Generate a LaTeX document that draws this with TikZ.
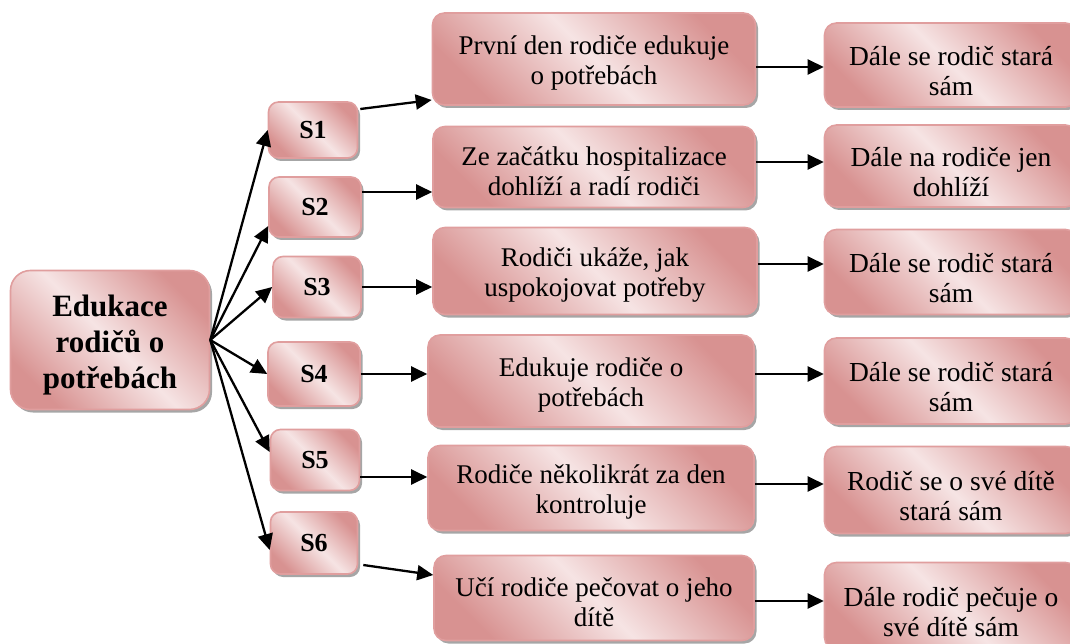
\documentclass[tikz,border=0pt]{standalone}
\usepackage{fontspec}
\setmainfont{Liberation Serif}
\usetikzlibrary{arrows.meta,shadows}
\definecolor{pinkdark}{RGB}{216,146,145}
\definecolor{pinklight}{RGB}{246,228,228}
\definecolor{boxborder}{RGB}{224,158,158}
\newcommand\myMidStrut{\rule{0pt}{27pt}}
\newcommand\myRStrut{\rule{0pt}{32pt}}
\newcommand\myMainStrut{\rule{0pt}{32pt}}
\tikzset{
  box/.style={draw=boxborder, line width=1.6pt, rounded corners=12pt,
    top color=pinkdark, bottom color=pinkdark, middle color=pinklight, shading angle=-45,
    drop shadow={shadow xshift=2.5pt, shadow yshift=-3pt, fill=black!50, opacity=0.7},
    align=center, inner sep=0pt, font=\fontsize{27}{30}\selectfont},
  midbox/.style={box},
  rbox/.style={box, font=\fontsize{27.5}{30}\selectfont},
  sbox/.style={box, rounded corners=10pt, font=\fontsize{26}{30}\selectfont\bfseries},
  mainbox/.style={box, rounded corners=20pt, font=\fontsize{31}{36}\selectfont\bfseries},
  arr/.style={line width=2.3pt, -{Triangle[length=16pt,width=15pt]}}
}
\begin{document}
\begin{tikzpicture}[x=1pt,y=-1pt]
\useasboundingbox (0,0) rectangle (1070,644);
% main
\node[mainbox, minimum width=199pt, minimum height=139pt] (main) at (110,340) {\myMainStrut Edukace\\rodičů o\\potřebách};
% S boxes
\node[sbox, minimum width=89pt, minimum height=56pt] (S1) at (313,130) {S1};
\node[sbox, minimum width=92pt, minimum height=60pt] (S2) at (315,207) {S2};
\node[sbox, minimum width=88pt, minimum height=61pt] (S3) at (317,287) {S3};
\node[sbox, minimum width=92pt, minimum height=64pt] (S4) at (314,374) {S4};
\node[sbox, minimum width=89pt, minimum height=61pt] (S5) at (315,460) {S5};
\node[sbox, minimum width=87pt, minimum height=62pt] (S6) at (314,543) {S6};
% middle boxes
\node[midbox, minimum width=323pt, minimum height=92pt] (M1) at (594,59) {\myMidStrut První den rodiče edukuje\\o potřebách};
\node[midbox, minimum width=322pt, minimum height=81pt] (M2) at (594,167) {\myMidStrut Ze začátku hospitalizace\\dohlíží a radí rodiči};
\node[midbox, minimum width=324pt, minimum height=87pt] (M3) at (595,271) {\myMidStrut Rodiči ukáže, jak\\uspokojovat potřeby};
\node[midbox, minimum width=326pt, minimum height=92pt] (M4) at (591,381) {\myMidStrut Edukuje rodiče o\\potřebách};
\node[midbox, minimum width=326pt, minimum height=85pt] (M5) at (591,488) {\myMidStrut Rodiče několikrát za den\\kontroluje};
\node[midbox, minimum width=320pt, minimum height=85pt] (M6) at (594,598) {\myMidStrut Učí rodiče pečovat o jeho\\dítě};
% right boxes
\node[rbox, minimum width=253pt, minimum height=84pt] (R1) at (951,65) {\myRStrut Dále se rodič stará\\sám};
\node[rbox, minimum width=253pt, minimum height=82pt] (R2) at (951,166) {\myRStrut Dále na rodiče jen\\dohlíží};
\node[rbox, minimum width=253pt, minimum height=85pt] (R3) at (951,272) {\myRStrut Dále se rodič stará\\sám};
\node[rbox, minimum width=253pt, minimum height=86pt] (R4) at (951,381) {\myRStrut Dále se rodič stará\\sám};
\node[rbox, minimum width=253pt, minimum height=87pt] (R5) at (951,490) {\myRStrut Rodič se o své dítě\\stará sám};
\node[rbox, minimum width=253pt, minimum height=87pt] (R6) at (951,606) {\myRStrut Dále rodič pečuje o\\své dítě sám};
% main -> S
\draw[arr] (main.east) -- (S1.west);
\draw[arr] (main.east) -- ([yshift=-19pt]S2.west);
\draw[arr] (main.east) -- (S3.west);
\draw[arr] (main.east) -- (S4.west);
\draw[arr] (main.east) -- ([yshift=8pt]S5.west);
\draw[arr] (main.east) -- ([yshift=-7pt]S6.west);
% S -> M
\draw[arr] ([xshift=2pt,yshift=21pt]S1.east) -- ([yshift=-41pt]M1.west);
\coordinate (a2) at ([yshift=15pt]S2.east);
\draw[arr] (a2) -- (a2 -| M2.west);
\draw[arr] (S3.east) -- (S3.east -| M3.west);
\draw[arr] (S4.east) -- (S4.east -| M4.west);
\coordinate (a5) at ([yshift=-17pt]S5.east);
\draw[arr] (a5) -- (a5 -| M5.west);
\draw[arr] ([xshift=5pt,yshift=-22pt]S6.east) -- ([yshift=23pt]M6.west);
% M -> R
\coordinate (b1) at ([yshift=-8pt]M1.east);
\draw[arr] (b1) -- (b1 -| R1.west);
\coordinate (b2) at ([yshift=5pt]M2.east);
\draw[arr] (b2) -- (b2 -| R2.west);
\coordinate (b3) at ([yshift=7pt]M3.east);
\draw[arr] (b3) -- (b3 -| R3.west);
\coordinate (b4) at ([yshift=7pt]M4.east);
\draw[arr] (b4) -- (b4 -| R4.west);
\coordinate (b5) at ([yshift=4pt]M5.east);
\draw[arr] (b5) -- (b5 -| R5.west);
\coordinate (b6) at ([yshift=-3pt]M6.east);
\draw[arr] (b6) -- (b6 -| R6.west);
\end{tikzpicture}
\end{document}
